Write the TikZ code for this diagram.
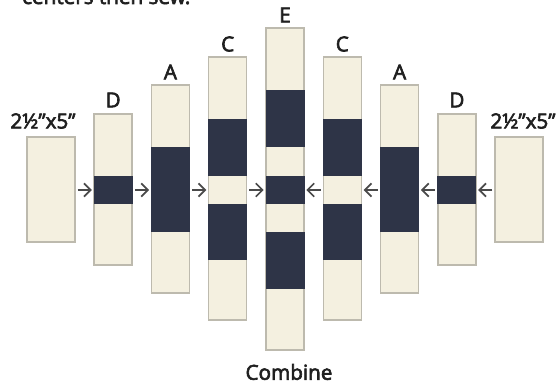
\documentclass[tikz,border=0pt]{standalone}
\usepackage{fontspec}
\setmainfont{Open Sans}[FakeBold=3]
\usetikzlibrary{arrows.meta}
\definecolor{cream}{HTML}{F4F0E0}
\definecolor{edge}{HTML}{BDBAAE}
\definecolor{navy}{HTML}{2E3447}
\definecolor{arrowgray}{HTML}{4A4A4A}
\tikzset{
  strip/.style={draw=edge, line width=1pt, fill=cream, inner sep=0pt, minimum width=28.5pt},
  lbl/.style={font=\fontsize{15.5}{18}\selectfont, inner sep=0pt, text=black!88},
  sewarrow/.style={-{Straight Barb[length=5pt,width=10pt,line width=1.3pt]}, draw=arrowgray, line width=1.3pt, shorten <=1.5pt, shorten >=1.2pt},
  band/.style={fill=navy}
}
\begin{document}
\begin{tikzpicture}[x=0.75pt,y=-0.75pt]
\useasboundingbox (0,0) rectangle (559,388);
% cut-off top line
\node[lbl, anchor=base west] (top) at (22,4) {centers then sew.};
% strips
\node[strip, minimum width=36pt, minimum height=78.75pt] (L) at (51,189.5) {};
\node[strip, minimum height=113.25pt] (D1) at (113.1,189.5) {};
\node[strip, minimum height=156pt] (A1) at (170.4,189) {};
\node[strip, minimum height=197.25pt] (C1) at (227.7,188.5) {};
\node[strip, minimum height=241.5pt] (E) at (285,189) {};
\node[strip, minimum height=197.25pt] (C2) at (342.3,188.5) {};
\node[strip, minimum height=156pt] (A2) at (399.6,189) {};
\node[strip, minimum height=113.25pt] (D2) at (456.9,189.5) {};
\node[strip, minimum width=36pt, minimum height=78.75pt] (R) at (519,189.5) {};
% dark bands
\fill[band] (113.1-19.5,176) rectangle (113.1+19.5,204);
\fill[band] (456.9-19.5,176) rectangle (456.9+19.5,204);
\fill[band] (170.4-19.5,147) rectangle (170.4+19.5,232);
\fill[band] (399.6-19.5,147) rectangle (399.6+19.5,232);
\fill[band] (227.7-19.5,119) rectangle (227.7+19.5,176);
\fill[band] (227.7-19.5,204) rectangle (227.7+19.5,260);
\fill[band] (342.3-19.5,119) rectangle (342.3+19.5,176);
\fill[band] (342.3-19.5,204) rectangle (342.3+19.5,260);
\fill[band] (285-19.5,90) rectangle (285+19.5,147);
\fill[band] (285-19.5,176) rectangle (285+19.5,204);
\fill[band] (285-19.5,232) rectangle (285+19.5,289);
% labels
\node[lbl] (lL) at (43,121) {2½"x5"};
\node[lbl] (lR) at (523,121) {2½"x5"};
\node[lbl] (lD1) at (113.1,100) {D};
\node[lbl] (lD2) at (456.9,100) {D};
\node[lbl] (lA1) at (170.4,72) {A};
\node[lbl] (lA2) at (399.6,72) {A};
\node[lbl] (lC1) at (227.7,44) {C};
\node[lbl] (lC2) at (342.3,44) {C};
\node[lbl] (lE) at (285,15) {E};
\node[lbl] (comb) at (289,372) {Combine};
% arrows
\draw[sewarrow] (L.east |- 0,190) -- (D1.west |- 0,190);
\draw[sewarrow] (D1.east |- 0,190) -- (A1.west |- 0,190);
\draw[sewarrow] (A1.east |- 0,190) -- (C1.west |- 0,190);
\draw[sewarrow] (C1.east |- 0,190) -- (E.west |- 0,190);
\draw[sewarrow] (C2.west |- 0,190) -- (E.east |- 0,190);
\draw[sewarrow] (A2.west |- 0,190) -- (C2.east |- 0,190);
\draw[sewarrow] (D2.west |- 0,190) -- (A2.east |- 0,190);
\draw[sewarrow] (R.west |- 0,190) -- (D2.east |- 0,190);
\end{tikzpicture}
\end{document}
